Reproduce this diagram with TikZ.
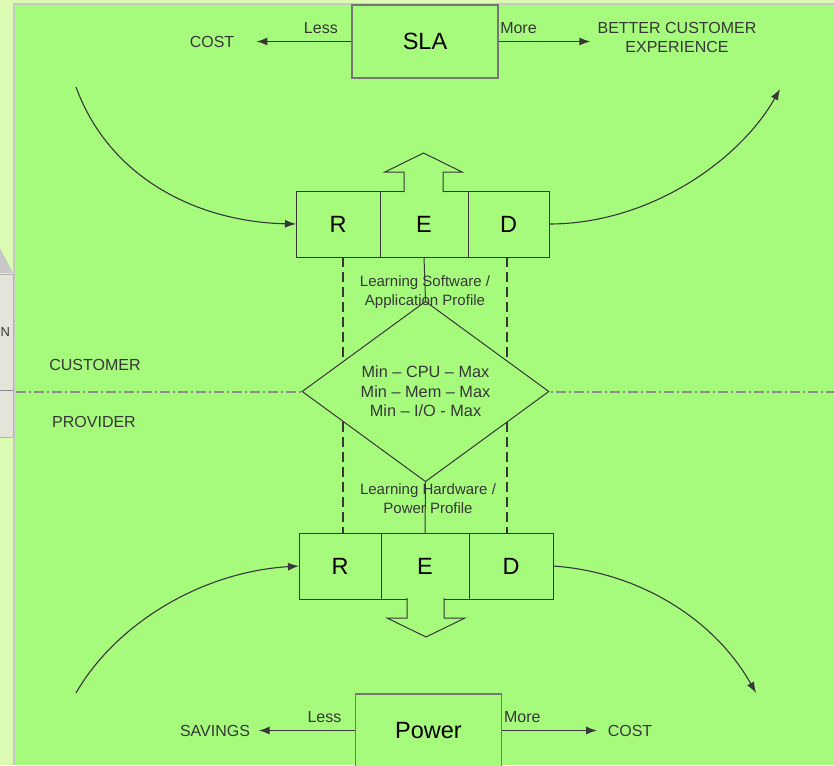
\documentclass[tikz,border=0pt]{standalone}
\usepackage{fontspec}
\setmainfont{Liberation Sans}
\usetikzlibrary{arrows.meta,calc,positioning,shapes.geometric}
\definecolor{sheet}{RGB}{166,250,124}
\definecolor{paper}{RGB}{219,252,178}
\definecolor{panel}{RGB}{228,228,218}
\definecolor{ink}{RGB}{55,55,55}
\definecolor{edge}{RGB}{118,118,118}

\begin{document}
\begin{tikzpicture}[x=1pt,y=-1pt,
    >={Latex[length=11pt,width=8pt]},
    cell/.style={draw=ink,line width=1pt,fill=sheet,minimum height=66pt,
                 inner sep=0pt,outer sep=0pt,font=\fontsize{23.5}{26}\selectfont},
    bigbox/.style={draw=edge,line width=1.5pt,fill=sheet,minimum width=146pt,
                   minimum height=73pt,inner sep=0pt,font=\fontsize{23.5}{26}\selectfont},
    lbl/.style={inner sep=0pt,text=ink,font=\fontsize{16}{19}\selectfont,align=center},
    note/.style={inner sep=0pt,text=ink,font=\fontsize{15}{19}\selectfont,align=center},
    link/.style={->,draw=ink,line width=1.3pt},
    curve/.style={->,draw=ink,line width=1.1pt},
    fat/.style={draw=ink,line width=1pt,fill=sheet},
    dashln/.style={draw=ink,line width=1.5pt,dash pattern=on 10pt off 5pt},
    split/.style={draw=black!45,line width=1.3pt,dash pattern=on 10pt off 3pt on 2pt off 3pt}]
  \useasboundingbox (0,0) rectangle (834,765);
  % page and side panel
  \fill[paper] (0,0) rectangle (834,765);
  \fill[sheet] (14,4) rectangle (834,765);
  \draw[black!22,line width=2pt] (14,765) -- (14,4) -- (834,4);
  \fill[black!22] (0,248) -- (13,273) -- (0,273) -- cycle;
  \filldraw[fill=panel,draw=black!30] (-1,274) rectangle (13,437);
  \draw[black!45] (0,390) -- (13,390);
  \node[lbl,anchor=west,font=\fontsize{13}{15}\selectfont] (side) at (0.5,332) {N};
  % customer / provider split
  \draw[split] (16,392) -- (834,392);
  \node[lbl] (cust) at (95,365) {CUSTOMER};
  \node[lbl] (prov) at (94,422) {PROVIDER};

  % SLA row
  \node[bigbox] (sla) at (425,41.5) {SLA};
  \node[lbl] (cost) at (212,41.5) {COST};
  \node[lbl] (ux) at (677,37.5) {BETTER CUSTOMER\\EXPERIENCE};
  \draw[link,shorten >=22pt] (sla.west) -- node[lbl,above=7pt,pos=0.26]{Less} (sla.west -| cost.east);
  \draw[link,shorten >=7pt] (sla.east) -- node[lbl,above=7pt,pos=0.20]{More} (sla.east -| ux.west);

  % RED, software side
  \node[cell,minimum width=84pt] (tr) at (338,224) {R};
  \node[cell,minimum width=88pt,right=0pt of tr] (te) {E};
  \node[cell,minimum width=81pt,right=0pt of te] (td) {D};
  \draw[fat] ([xshift=-20pt,yshift=-1pt]te.north) -- ++(0,-20) -- ++(-19,0)
    -- ++(38.5,-19) -- ++(38.5,19) -- ++(-19,0) -- ++(0,20);

  % RED, hardware side
  \node[cell,minimum width=82pt] (br) at (340,566) {R};
  \node[cell,minimum width=88pt,right=0pt of br] (be) {E};
  \node[cell,minimum width=84pt,right=0pt of be] (bd) {D};
  \draw[fat] ([xshift=-18pt,yshift=1pt]be.south) -- ++(0,20) -- ++(-20,0)
    -- ++(39,19) -- ++(39,-19) -- ++(-21,0) -- ++(0,-20);

  % profiles
  \draw[dashln] ([xshift=5pt]tr.south) -- ([xshift=3pt]br.north);
  \draw[dashln] ([xshift=-1.5pt]td.south) -- ([xshift=-4pt]bd.north);
  \node[diamond,draw=ink,line width=1pt,fill=sheet,minimum width=247pt,
        minimum height=149pt,inner sep=0pt,text=ink,align=center,
        font=\fontsize{16.3}{19.5}\selectfont] (mix) at (425.5,391.5)
        {Min – CPU – Max\\Min – Mem – Max\\Min – I/O - Max};
  \draw[ink,line width=1pt] (te.south) -- (mix.north);
  \draw[ink,line width=1pt] (mix.south) -- (be.north);
  \node[note] (sw) at (425,292.5) {Learning Software /\\Application Profile};
  \node[note] (hw) at (428,498.5) {Learning Hardware /\\Power Profile};

  % Power row
  \node[bigbox] (pwr) at (428.5,730.5) {Power};
  \node[lbl] (save) at (215,730.5) {SAVINGS};
  \node[lbl] (cost2) at (630,730.5) {COST};
  \draw[link,shorten >=8.5pt] (pwr.west) -- node[lbl,above=7pt,pos=0.29]{Less} (pwr.west -| save.east);
  \draw[link,shorten >=10.5pt] (pwr.east) -- node[lbl,above=7pt,pos=0.19]{More} (pwr.east -| cost2.west);

  % flows
  \coordinate (tl) at (76,87);
  \coordinate (tt) at (780,89);
  \coordinate (bl) at (76,693);
  \coordinate (bt) at (756,693);
  \draw[curve] (tl) .. controls (110,180) and (200,222) .. (tr.west);
  \draw[curve] (td.east) .. controls (650,224) and (740,160) .. (tt);
  \draw[curve] (bl) .. controls (115,625) and (200,572) .. (br.west);
  \draw[curve] (bd.east) .. controls (640,572) and (715,620) .. (bt);
\end{tikzpicture}
\end{document}
